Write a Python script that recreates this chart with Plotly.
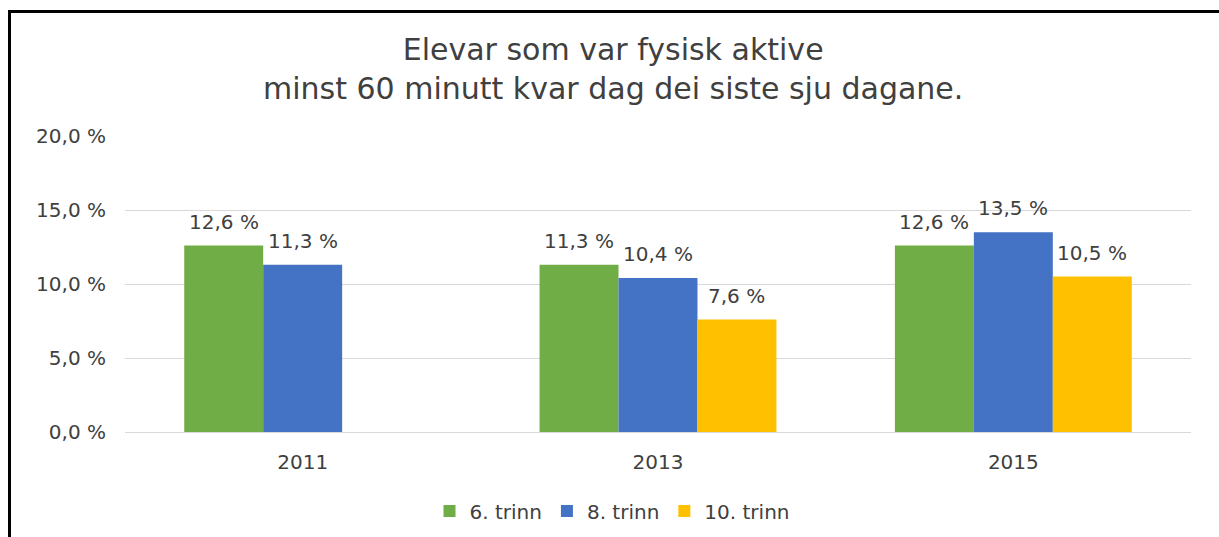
import plotly.graph_objects as go

years = ["2011", "2013", "2015"]
series_names = ["6. trinn", "8. trinn", "10. trinn"]
trinn6 = [12.6, 11.3, 12.6]
trinn8 = [11.3, 10.4, 13.5]
trinn10 = [None, 7.6, 10.5]
colors = ["#70AD47", "#4472C4", "#FFC000"]
y_ticks = [0, 5, 10, 15, 20]
title_text = "Elevar som var fysisk aktive<br>minst 60 minutt kvar dag dei siste sju dagane."

W, H = 1219, 537
L, R, T, B = 125, 28, 136, 105
FONT = "DejaVu Sans"
TXT = "#404040"
bargap = 1 / 3


def fmt(v):
    return f"{v:.1f}".replace(".", ",") + " %"


fig = go.Figure()
all_series = [trinn6, trinn8, trinn10]
for name, vals, col in zip(series_names, all_series, colors):
    fig.add_trace(go.Bar(x=years, y=vals, name=name, marker=dict(color=col, line=dict(width=0))))

n = len(all_series)
bw = (1 - bargap) / n
for k, vals in enumerate(all_series):
    for i, v in enumerate(vals):
        if v is None:
            continue
        fig.add_annotation(
            x=i + (k - (n - 1) / 2) * bw, y=v, xref="x", yref="y",
            text=fmt(v), showarrow=False, yanchor="middle", yshift=24,
            font=dict(family=FONT, size=20, color=TXT),
        )

ph = H - T - B
pw = W - L - R
# outer frame (left and top edges visible)
fig.add_shape(type="rect", xref="paper", yref="paper",
              x0=(9.5 - L) / pw, x1=1.5, y0=-1.0, y1=(H - B - 11.5) / ph,
              line=dict(color="black", width=3), layer="above")

fig.update_layout(
    width=W, height=H,
    margin=dict(l=L, r=R, t=T, b=B, pad=0, autoexpand=False),
    paper_bgcolor="white", plot_bgcolor="white",
    barmode="group", bargap=bargap, bargroupgap=0,
    title=dict(text=title_text, x=0.503, xanchor="center", xref="container",
               y=1 - 60 / H, yanchor="middle", yref="container",
               font=dict(family=FONT, size=30, color=TXT)),
    font=dict(family=FONT, size=20, color=TXT),
    xaxis=dict(type="category", showgrid=False, showline=True, linecolor="#D9D9D9", linewidth=1,
               ticks="", tickfont=dict(family=FONT, size=20, color=TXT), ticklabelstandoff=12),
    yaxis=dict(range=[0, 20], tickmode="array", tickvals=y_ticks,
               ticktext=[fmt(t) for t in y_ticks],
               showgrid=True, gridcolor="#D9D9D9", gridwidth=1, zeroline=False,
               ticks="", tickfont=dict(family=FONT, size=20, color=TXT), ticklabelstandoff=18),
    legend=dict(orientation="h", x=(612 - L) / pw, xanchor="center",
                yref="container", y=1 - 511 / H,
                yanchor="middle", font=dict(family=FONT, size=20, color=TXT),
                itemwidth=30, traceorder="normal"),
    showlegend=True,
)

fig.write_html("out.html", config={"displayModeBar": False},
               post_script="document.body.style.margin='0';document.body.style.overflow='hidden';")
